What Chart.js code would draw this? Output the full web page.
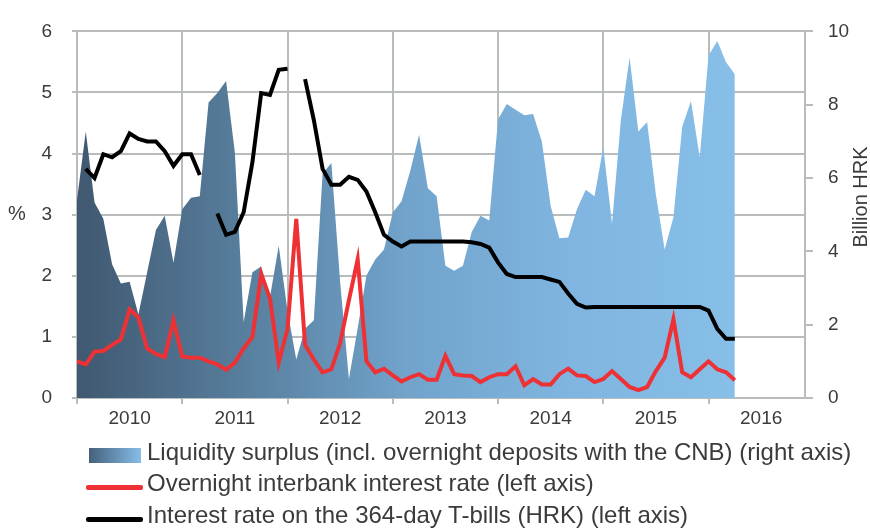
<!DOCTYPE html>
<html>
<head>
<meta charset="utf-8">
<script src="https://cdn.jsdelivr.net/npm/chart.js@4.4.0/dist/chart.umd.min.js"></script>
<style>
body { margin: 0; background: #fff; font-family: "Liberation Sans", Arial, sans-serif; color: #3b3b3b; }
#wrap { position: relative; width: 870px; height: 532px; overflow: hidden; }
canvas { position: absolute; left: 0; top: 0; }
.lbl { position: absolute; font-size: 20px; line-height: 1; white-space: nowrap; }
.leg { position: absolute; font-size: 24px; line-height: 1; white-space: nowrap; }
.sw { position: absolute; }
</style>
</head>
<body>
<div id="wrap">
  <canvas id="grafico" width="870" height="532"></canvas>
  <div class="lbl" style="left:8px; top:203px;">%</div>
  <div class="lbl" style="left:800px; top:187px; width:120px; height:20px; text-align:center; transform:rotate(-90deg);">Billion HRK</div>

  <div class="sw" style="left:89px; top:448px; width:52px; height:15px; background:linear-gradient(to right,#45607a,#86bde8);"></div>
  <div class="leg" style="left:147px; top:440px;">Liquidity surplus (incl. overnight deposits with the CNB) (right axis)</div>
  <div class="sw" style="left:86px; top:485px; width:57px; height:5px; border-radius:2px; background:#ee3135;"></div>
  <div class="leg" style="left:147px; top:471px;">Overnight interbank interest rate (left axis)</div>
  <div class="sw" style="left:86px; top:517px; width:57px; height:5px; border-radius:2px; background:#000;"></div>
  <div class="leg" style="left:147px; top:503px;">Interest rate on the 364-day T-bills (HRK) (left axis)</div>
</div>
<script>
// categorie: mesi da gennaio 2010
const mesi = [];
for (let a = 2010; a <= 2016; a++) {
    for (let m = 1; m <= 12; m++) mesi.push(m + '/' + a);
}
mesi.length = 76;

const anni = ['2010', '2011', '2012', '2013', '2014', '2015', '2016'];

// Liquidity surplus, miliardi HRK (asse destro)
const liquidita = [
    5.40, 7.27, 5.33, 4.89, 3.65, 3.12, 3.17, 2.28, 3.43, 4.58, 4.97, 3.69,
    5.15, 5.46, 5.50, 8.06, 8.32, 8.65, 6.69, 2.07, 3.43, 3.59, 2.75, 4.15,
    2.37, 1.05, 1.89, 2.12, 6.12, 6.41, 3.17, 0.52, 1.90, 3.34, 3.78, 4.05,
    5.06, 5.37, 6.20, 7.18, 5.72, 5.50, 3.61, 3.47, 3.61, 4.53, 4.97, 4.84,
    7.60, 8.02, 7.86, 7.71, 7.75, 7.00, 5.24, 4.36, 4.38, 5.15, 5.68, 5.50,
    6.83, 4.75, 7.57, 9.29, 7.27, 7.53, 5.55, 4.05, 4.93, 7.40, 8.10, 6.56,
    9.34, 9.74, 9.16, 8.83
];

// Overnight interbank, % (asse sinistro)
const overnight = [
    0.60, 0.55, 0.76, 0.77, 0.87, 0.96, 1.45, 1.32, 0.81, 0.72, 0.67, 1.27,
    0.68, 0.66, 0.66, 0.60, 0.55, 0.46, 0.58, 0.81, 1.00, 2.03, 1.63, 0.58,
    1.13, 2.93, 0.87, 0.63, 0.42, 0.47, 0.90, 1.60, 2.27, 0.60, 0.42, 0.48,
    0.37, 0.27, 0.34, 0.39, 0.30, 0.30, 0.69, 0.39, 0.37, 0.36, 0.26, 0.34,
    0.39, 0.39, 0.52, 0.21, 0.31, 0.22, 0.22, 0.39, 0.48, 0.37, 0.36, 0.26,
    0.31, 0.44, 0.31, 0.18, 0.13, 0.18, 0.44, 0.66, 1.29, 0.42, 0.34, 0.47,
    0.60, 0.47, 0.42, 0.29
];

// T-bills 364 giorni, % (asse sinistro)
const tbill = [
    null, 3.75, 3.60, 3.99, 3.94, 4.04, 4.33, 4.24, 4.20, 4.20, 4.04, 3.80,
    3.99, 3.99, 3.65, null, 3.02, 2.67, 2.72, 3.04, 3.86, 4.99, 4.96, 5.37,
    5.39, null, 5.22, 4.55, 3.75, 3.49, 3.49, 3.62, 3.57, 3.38, 3.04, 2.67,
    2.56, 2.48, 2.56, 2.56, 2.56, 2.56, 2.56, 2.56, 2.56, 2.55, 2.52, 2.46,
    2.22, 2.03, 1.98, 1.98, 1.98, 1.98, 1.94, 1.90, 1.71, 1.54, 1.48, 1.49,
    1.49, 1.49, 1.49, 1.49, 1.49, 1.49, 1.49, 1.49, 1.49, 1.49, 1.49, 1.49,
    1.43, 1.13, 0.97, 0.97
];

const GRIGLIA = '#b9bcbc';
const TESTO = '#3b3b3b';
const FONT = { family: '"Liberation Sans", Arial, sans-serif', size: 19 };

const punti = (serie) => serie.map((v, i) => ({ x: i, y: v }));

function sfumatura(context) {
    const chart = context.chart;
    if (!chart.chartArea) return '#6f9fc8';
    const x0 = chart.scales.x.getPixelForValue(0);
    const x1 = chart.scales.x.getPixelForValue(mesi.length - 1);
    const g = chart.ctx.createLinearGradient(x0, 0, x1, 0);
    g.addColorStop(0, '#405870');
    g.addColorStop(0.25, '#577e9d');
    g.addColorStop(0.5, '#71a3cb');
    g.addColorStop(0.75, '#7fb5e0');
    g.addColorStop(1, '#87bfe8');
    return g;
}

let ctx = document.getElementById('grafico').getContext('2d');
let grafico = new Chart(ctx, {
    type: 'line',
    data: {
        datasets: [{
            label: 'Interest rate on the 364-day T-bills (HRK) (left axis)',
            data: punti(tbill),
            borderColor: '#000000',
            borderWidth: 4,
            pointRadius: 0,
            tension: 0,
            yAxisID: 'y'
        }, {
            label: 'Overnight interbank interest rate (left axis)',
            data: punti(overnight),
            borderColor: '#ee3135',
            borderWidth: 4,
            pointRadius: 0,
            tension: 0,
            yAxisID: 'y'
        }, {
            label: 'Liquidity surplus (incl. overnight deposits with the CNB) (right axis)',
            data: punti(liquidita),
            borderWidth: 0,
            borderColor: 'rgba(0,0,0,0)',
            backgroundColor: sfumatura,
            fill: 'origin',
            pointRadius: 0,
            tension: 0,
            yAxisID: 'y1'
        }]
    },
    options: {
        responsive: false,
        animation: false,
        devicePixelRatio: 1,
        layout: { padding: { top: 20, left: 0, right: 0, bottom: 0 } },
        plugins: {
            legend: { display: false },
            tooltip: { enabled: false }
        },
        scales: {
            x: {
                type: 'linear',
                min: 0,
                max: 83,
                afterBuildTicks: (axis) => {
                    axis.ticks = [];
                    for (let v = 0; v <= 78; v += 6) axis.ticks.push({ value: v });
                },
                afterFit: (scale) => { scale.height = 134; },
                ticks: {
                    autoSkip: false,
                    maxRotation: 0,
                    color: TESTO,
                    font: FONT,
                    padding: 3,
                    callback: (v) => (v % 12 === 6 ? anni[(v - 6) / 12] : '')
                },
                grid: {
                    color: (c) => (c.tick && c.tick.value % 12 === 0 ? GRIGLIA : 'rgba(0,0,0,0)'),
                    lineWidth: 2,
                    tickLength: 6
                },
                border: { color: GRIGLIA, width: 2 }
            },
            y: {
                position: 'left',
                min: 0,
                max: 6,
                afterFit: (scale) => { scale.width = 77; },
                ticks: { stepSize: 1, color: TESTO, font: FONT, padding: 20 },
                grid: { color: GRIGLIA, lineWidth: 2, tickLength: 5 },
                border: { color: GRIGLIA, width: 2 }
            },
            y1: {
                position: 'right',
                min: 0,
                max: 10,
                afterFit: (scale) => { scale.width = 65; },
                ticks: { stepSize: 2, color: TESTO, font: FONT, padding: 15 },
                grid: { drawOnChartArea: false, color: GRIGLIA, lineWidth: 2, tickLength: 8 },
                border: { color: GRIGLIA, width: 2 }
            }
        }
    }
});
</script>
</body>
</html>
